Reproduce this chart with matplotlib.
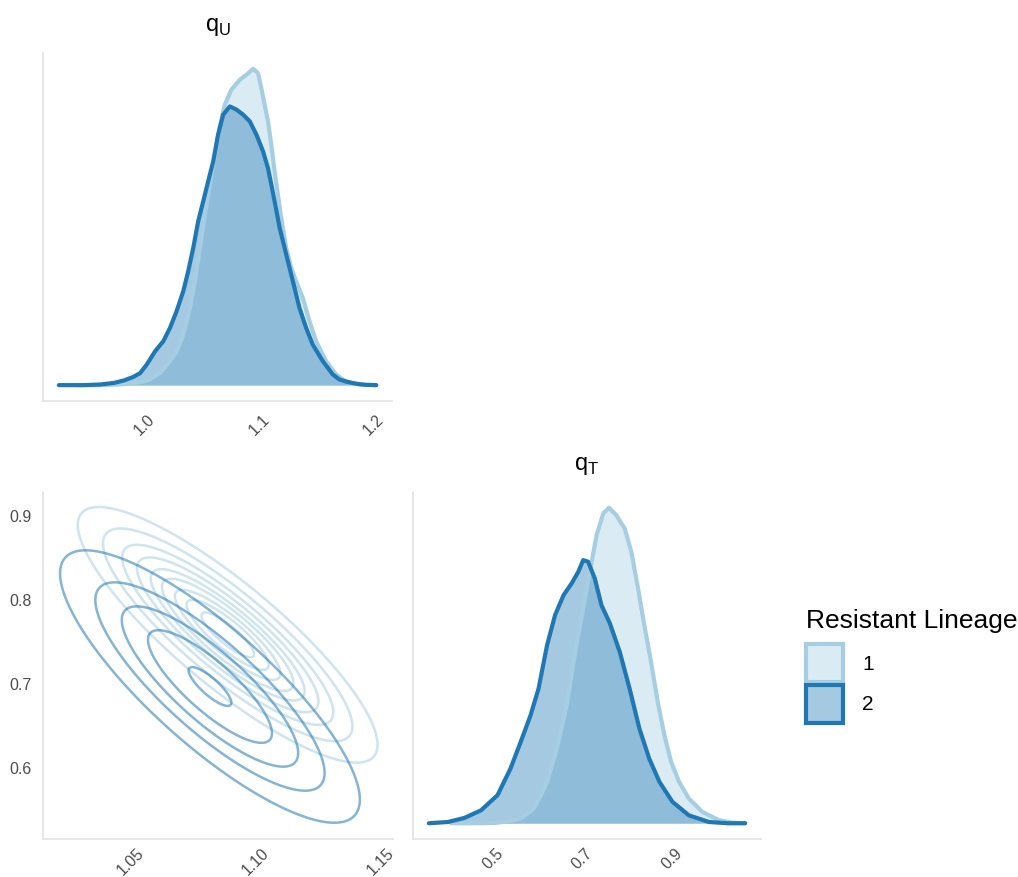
import numpy as np
import matplotlib
matplotlib.use("Agg")
import matplotlib.pyplot as plt
from matplotlib.patches import Patch

plt.rcParams['font.family'] = ['Liberation Sans', 'DejaVu Sans']
plt.rcParams['mathtext.fontset'] = 'custom'
plt.rcParams['mathtext.rm'] = 'Liberation Sans'

# lineage colours (Paired)
c1 = '#a6cee3'
c2 = '#1f78b4'
lineages = ['1', '2']

# q_U marginal densities (relative height)
qu_x_1 = [0.940, 0.960, 0.975, 0.988, 0.996, 1.0026, 1.0113, 1.020, 1.0258, 1.0316,
          1.0374, 1.0417, 1.0461, 1.0504, 1.0548, 1.0591, 1.0635, 1.0678, 1.0736,
          1.0809, 1.0867, 1.0925, 1.0968, 1.0997, 1.1026, 1.1055, 1.1084, 1.1113,
          1.1142, 1.1171, 1.1214, 1.1258, 1.1301, 1.1359, 1.1417, 1.1475, 1.1562,
          1.1649, 1.172, 1.180, 1.190, 1.200]
qu_d_1 = [0.0, 0.0, 0.002, 0.006, 0.011, 0.018, 0.039, 0.076, 0.107, 0.16,
          0.244, 0.328, 0.434, 0.539, 0.634, 0.728, 0.818, 0.886, 0.934,
          0.965, 0.981, 1.0, 0.986, 0.939, 0.886, 0.834, 0.76, 0.676,
          0.602, 0.528, 0.434, 0.371, 0.328, 0.276, 0.202, 0.139, 0.076,
          0.034, 0.015, 0.005, 0.001, 0.0]
qu_x_2 = [0.923, 0.945, 0.959, 0.971, 0.980, 0.988, 0.9939, 0.9997, 1.007, 1.0142,
          1.020, 1.0258, 1.0316, 1.0359, 1.0403, 1.0446, 1.049, 1.0533, 1.0577,
          1.062, 1.0664, 1.0722, 1.078, 1.0838, 1.0896, 1.0954, 1.1012, 1.1055,
          1.1084, 1.1113, 1.1157, 1.120, 1.1243, 1.1287, 1.133, 1.1388, 1.1446,
          1.1533, 1.162, 1.1678, 1.174, 1.179, 1.185, 1.191, 1.200]
qu_d_2 = [0.0, 0.0, 0.002, 0.007, 0.015, 0.026, 0.038, 0.065, 0.107, 0.139,
          0.181, 0.234, 0.297, 0.36, 0.434, 0.518, 0.581, 0.644, 0.707,
          0.792, 0.855, 0.881, 0.871, 0.855, 0.834, 0.792, 0.739, 0.686,
          0.634, 0.581, 0.497, 0.434, 0.371, 0.307, 0.244, 0.181, 0.128,
          0.076, 0.034, 0.018, 0.011, 0.007, 0.003, 0.001, 0.0]

# q_T marginal densities
qt_x_1 = [0.400, 0.460, 0.500, 0.535, 0.556, 0.570, 0.585, 0.600, 0.615, 0.637,
          0.659, 0.678, 0.696, 0.711, 0.726, 0.741, 0.754, 0.770, 0.789, 0.804,
          0.819, 0.833, 0.848, 0.863, 0.878, 0.893, 0.911, 0.933, 0.963, 1.000,
          1.030, 1.059]
qt_d_1 = [0.0, 0.0, 0.001, 0.008, 0.015, 0.03, 0.047, 0.085, 0.131, 0.237,
          0.374, 0.543, 0.681, 0.797, 0.913, 0.982, 1.0, 0.977, 0.934, 0.86,
          0.744, 0.628, 0.512, 0.385, 0.279, 0.195, 0.131, 0.078, 0.036, 0.01,
          0.002, 0.0]
qt_x_2 = [0.350, 0.393, 0.430, 0.467, 0.504, 0.533, 0.556, 0.578, 0.596, 0.615,
          0.633, 0.652, 0.670, 0.685, 0.696, 0.707, 0.722, 0.737, 0.756, 0.778,
          0.800, 0.822, 0.844, 0.867, 0.896, 0.933, 0.978, 1.020, 1.059]
qt_d_2 = [0.0, 0.004, 0.017, 0.041, 0.089, 0.173, 0.258, 0.342, 0.427, 0.564,
          0.66, 0.723, 0.76, 0.797, 0.834, 0.829, 0.776, 0.691, 0.633, 0.543,
          0.427, 0.30, 0.205, 0.131, 0.068, 0.025, 0.004, 0.0, 0.0]

# joint (q_U, q_T) summary per lineage: mean, sd, correlation
mean_1 = (1.0866, 0.759)
sd_1 = (0.030, 0.076)
rho_1 = -0.86
mean_2 = (1.0795, 0.6975)
sd_2 = (0.030, 0.081)
rho_2 = -0.83
# contour levels as fraction of each lineage's peak density
levels_1 = [0.135, 0.25, 0.37, 0.48, 0.59, 0.68, 0.78, 0.86, 0.94]
levels_2 = [0.135, 0.31, 0.50, 0.71, 0.96]


def rel_density(X, Y, mean, sd, rho):
    zx = (X - mean[0]) / sd[0]
    zy = (Y - mean[1]) / sd[1]
    q = (zx**2 - 2 * rho * zx * zy + zy**2) / (1 - rho**2)
    return np.exp(-q / 2)


def style_ax(ax, xpad=8):
    for s in ['top', 'right']:
        ax.spines[s].set_visible(False)
    for s in ['left', 'bottom']:
        ax.spines[s].set_color('#e3e3e3')
        ax.spines[s].set_linewidth(1.2)
    ax.tick_params(length=0, pad=8, labelsize=11.5, labelcolor='#4d4d4d')
    ax.tick_params(axis='x', labelrotation=45, pad=xpad)
    for lab in ax.get_xticklabels():
        lab.set_ha('right')
        lab.set_rotation_mode('anchor')


def diag(ax, x1, d1, x2, d2):
    ax.fill_between(x1, 0, d1, color=c1, alpha=0.4, lw=0)
    ax.plot(x1, d1, color=c1, lw=3, solid_capstyle='round', solid_joinstyle='round')
    ax.fill_between(x2, 0, d2, color=c2, alpha=0.4, lw=0)
    ax.plot(x2, d2, color=c2, lw=3, solid_capstyle='round', solid_joinstyle='round')
    ax.set_yticks([])


fig = plt.figure(figsize=(10.18, 8.77), dpi=100)
ax_u = fig.add_axes([0.0422, 0.5428, 0.343, 0.3968])
ax_j = fig.add_axes([0.0422, 0.0433, 0.3438, 0.3957])
ax_t = fig.add_axes([0.4057, 0.0433, 0.3418, 0.3957])

diag(ax_u, qu_x_1, qu_d_1, qu_x_2, qu_d_2)
ax_u.set_xticks([1.0, 1.1, 1.2])
ax_u.set_xticklabels(['1.0', '1.1', '1.2'])
ax_u.set_title('q$_\\mathregular{U}$', fontsize=17, pad=16)

diag(ax_t, qt_x_1, qt_d_1, qt_x_2, qt_d_2)
ax_t.set_xticks([0.5, 0.7, 0.9])
ax_t.set_xticklabels(['0.5', '0.7', '0.9'])
ax_t.set_title('q$_\\mathregular{T}$', fontsize=17, pad=16)

gx = np.linspace(0.98, 1.20, 400)
gy = np.linspace(0.40, 1.05, 400)
GX, GY = np.meshgrid(gx, gy)
ax_j.contour(GX, GY, rel_density(GX, GY, mean_1, sd_1, rho_1), levels=levels_1,
             colors=[c1], alpha=0.55, linewidths=1.8)
ax_j.contour(GX, GY, rel_density(GX, GY, mean_2, sd_2, rho_2), levels=levels_2,
             colors=[c2], alpha=0.55, linewidths=1.8)
ax_j.set_xlim(1.0126, 1.1528)
ax_j.set_ylim(0.516, 0.929)
ax_j.set_xticks([1.05, 1.10, 1.15])
ax_j.set_xticklabels(['1.05', '1.10', '1.15'])
ax_j.set_yticks([0.6, 0.7, 0.8, 0.9])
ax_j.set_yticklabels(['0.6', '0.7', '0.8', '0.9'])

style_ax(ax_u)
style_ax(ax_j, xpad=5)
style_ax(ax_t, xpad=5)

handles = [Patch(facecolor=matplotlib.colors.to_rgba(c, 0.4), edgecolor=c, linewidth=3)
           for c in [c1, c2]]
leg = fig.legend(handles, lineages, title='Resistant Lineage', loc='upper left',
                 bbox_to_anchor=(0.773, 0.327), frameon=False, fontsize=15,
                 title_fontsize=19, handlelength=1.8, handleheight=2.45,
                 labelspacing=0.12, handletextpad=0.9, alignment='left')
leg._legend_box.sep = 8

fig.savefig('out.png', dpi=100)
